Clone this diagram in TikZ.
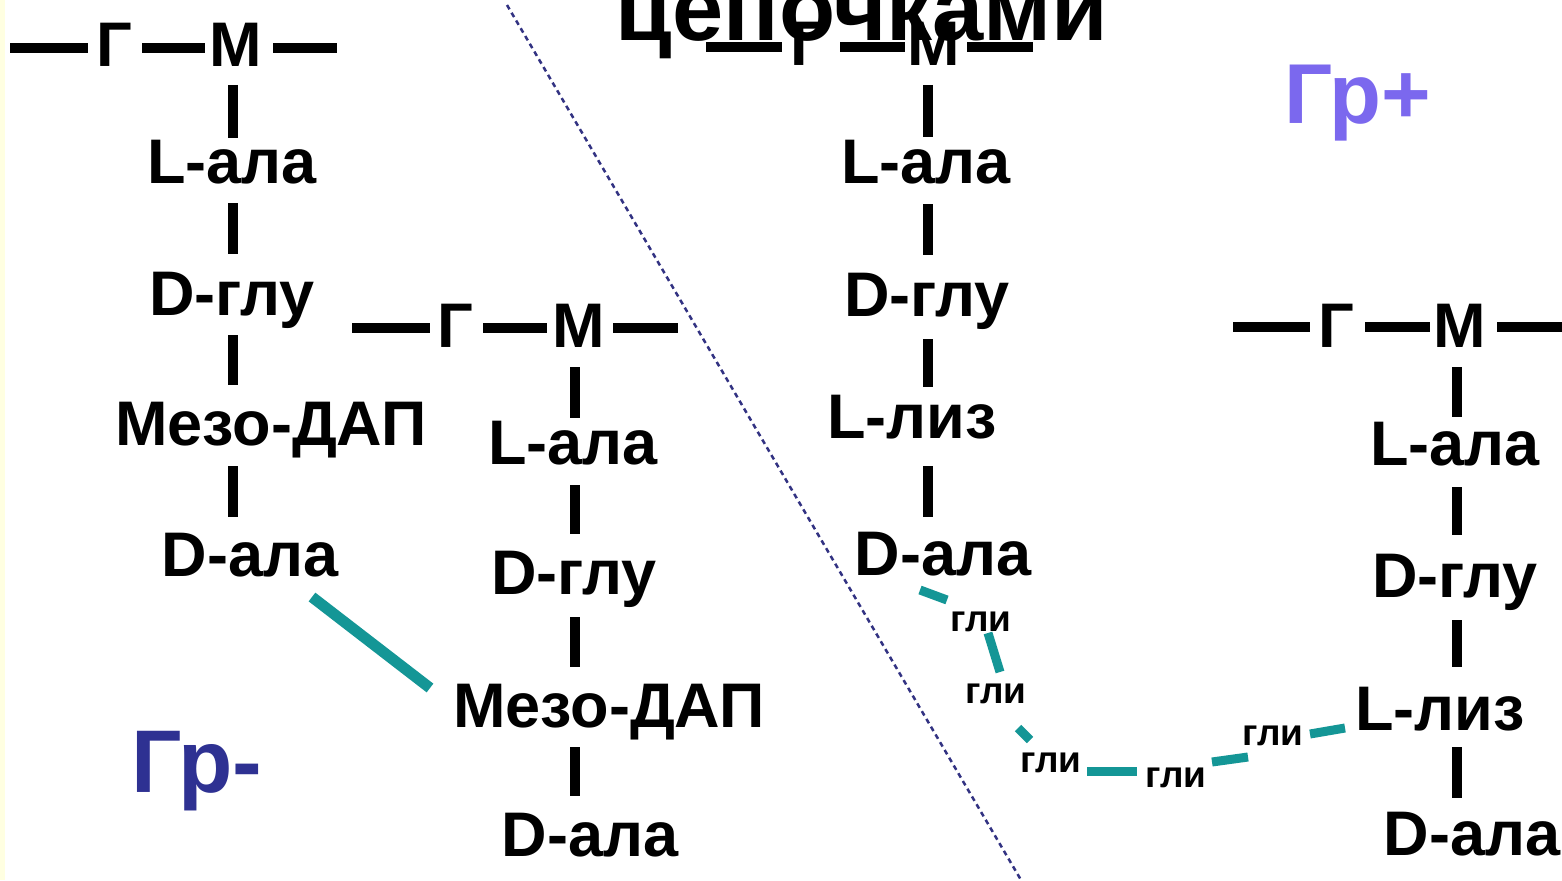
\documentclass[tikz,border=0pt]{standalone}
\usepackage{fontspec}
\setmainfont{Liberation Sans}
\usetikzlibrary{calc}
\definecolor{tealc}{RGB}{20,150,150}
\definecolor{grminus}{RGB}{46,49,146}
\definecolor{grplus}{RGB}{123,104,238}
\definecolor{dotc}{RGB}{50,50,130}
\definecolor{stripc}{RGB}{255,255,225}
\tikzset{
  lbl/.style={font=\fontsize{63}{63}\selectfont\bfseries, inner sep=0pt, text height=45pt, text depth=0pt, anchor=base},
  gl/.style={font=\fontsize{37}{37}\selectfont\bfseries, inner sep=0pt, text height=20pt, text depth=0pt, anchor=base},
  titl/.style={font=\fontsize{92}{92}\selectfont\bfseries, inner sep=0pt, anchor=base},
  grp/.style={font=\fontsize{89}{89}\selectfont\bfseries, inner sep=0pt, anchor=base west},
  hb/.style={line width=10pt, black},
  vb/.style={line width=10pt, black},
  gly/.style={line width=9pt, tealc},
  xlink/.style={line width=11pt, tealc},
  dotline/.style={line width=2.5pt, dotc, dash pattern=on 5pt off 4pt}
}
\begin{document}
\begin{tikzpicture}[x=1pt,y=-1pt]
\useasboundingbox (0,0) rectangle (1562,880);
\fill[white] (0,0) rectangle (1562,880);
\fill[stripc] (0,0) rectangle (5,880);

% dotted divider
\coordinate (d1) at (507,5);
\coordinate (d2) at (1021,880);
\draw[dotline] (d1) -- (d2);

% ---------- chain 1 ----------
\node[lbl] (G1) at (114,67) {Г};
\node[lbl] (M1) at (236,67) {М};
\node[lbl] (La1) at (232,183) {L-ала};
\node[lbl] (Dg1) at (232,315) {D-глу};
\node[lbl] (Mz1) at (271,445) {Мезо-ДАП};
\node[lbl] (Da1) at (250,576) {D-ала};
\coordinate (c1l) at (10,48);
\coordinate (c1r) at (337,48);
\draw[hb] (c1l) -- ($(G1.base)+(-26,-19)$);
\draw[hb] ($(G1.base)+(28,-19)$) -- ($(M1.base)+(-31,-19)$);
\draw[hb] ($(M1.base)+(37,-19)$) -- (c1r);
\draw[vb] ($(M1.base)+(-3,18)$) -- ($(M1.base |- La1.north)+(-3,0)$);
\draw[vb] ($(M1.base |- La1.base)+(-3,20)$) -- ($(M1.base |- Dg1.north)+(-3,-16)$);
\draw[vb] ($(M1.base |- Dg1.base)+(-3,20)$) -- ($(M1.base |- Mz1.north)+(-3,-15)$);
\draw[vb] ($(M1.base |- Mz1.base)+(-3,21)$) -- ($(M1.base |- Da1.north)+(-3,-14)$);

% ---------- chain 2 ----------
\node[lbl] (G2) at (455,347) {Г};
\node[lbl] (M2) at (579,347) {М};
\node[lbl] (La2) at (573,464) {L-ала};
\node[lbl] (Dg2) at (574,594) {D-глу};
\node[lbl] (Mz2) at (609,727) {Мезо-ДАП};
\node[lbl] (Da2) at (590,856) {D-ала};
\coordinate (c2l) at (352,328);
\coordinate (c2r) at (678,328);
\draw[hb] (c2l) -- ($(G2.base)+(-25,-19)$);
\draw[hb] ($(G2.base)+(28,-19)$) -- ($(M2.base)+(-32,-19)$);
\draw[hb] ($(M2.base)+(34,-19)$) -- (c2r);
\draw[vb] ($(M2.base)+(-4,20)$) -- ($(M2.base |- La2.north)+(-4,-1)$);
\draw[vb] ($(M2.base |- La2.base)+(-4,21)$) -- ($(M2.base |- Dg2.north)+(-4,-15)$);
\draw[vb] ($(M2.base |- Dg2.base)+(-4,23)$) -- ($(M2.base |- Mz2.north)+(-4,-15)$);
\draw[vb] ($(M2.base |- Mz2.base)+(-4,20)$) -- ($(M2.base |- Da2.north)+(-4,-15)$);

% cross-link chain 1 -> chain 2
\draw[xlink] ($(Da1.base)+(62,21)$) -- ($(Mz2.base)+(-179,-39)$);

% ---------- chain 3 ----------
\node[lbl] (G3) at (808,66) {Г};
\node[lbl] (M3) at (934,66) {М};
\node[lbl] (La3) at (926,183) {L-ала};
\node[lbl] (Dg3) at (927,316) {D-глу};
\node[lbl] (Lz3) at (912,438) {L-лиз};
\node[lbl] (Da3) at (943,575) {D-ала};
\coordinate (c3l) at (706,47);
\coordinate (c3r) at (1033,47);
\draw[hb] (c3l) -- ($(G3.base)+(-26,-19)$);
\draw[hb] ($(G3.base)+(32,-19)$) -- ($(M3.base)+(-29,-19)$);
\draw[hb] ($(M3.base)+(33,-19)$) -- (c3r);
\draw[vb] ($(M3.base)+(-6,19)$) -- ($(M3.base |- La3.north)+(-6,-1)$);
\draw[vb] ($(M3.base |- La3.base)+(-6,21)$) -- ($(M3.base |- Dg3.north)+(-6,-16)$);
\draw[vb] ($(M3.base |- Dg3.base)+(-6,23)$) -- ($(M3.base |- Lz3.north)+(-6,-6)$);
\draw[vb] ($(M3.base |- Lz3.base)+(-6,28)$) -- ($(M3.base |- Da3.north)+(-6,-13)$);

% title fragment
\node[titl] (T) at (862,41) {цепочками};

% ---------- chain 4 ----------
\node[lbl] (G4) at (1336,347) {Г};
\node[lbl] (M4) at (1460,347) {М};
\node[lbl] (La4) at (1455,465) {L-ала};
\node[lbl] (Dg4) at (1455,597) {D-глу};
\node[lbl] (Lz4) at (1440,730) {L-лиз};
\node[lbl] (Da4) at (1472,855) {D-ала};
\coordinate (c4l) at (1233,327);
\coordinate (c4r) at (1562,327);
\draw[hb] (c4l) -- ($(G4.base)+(-26,-20)$);
\draw[hb] ($(G4.base)+(29,-20)$) -- ($(M4.base)+(-30,-20)$);
\draw[hb] ($(M4.base)+(37,-20)$) -- (c4r);
\draw[vb] ($(M4.base)+(-3,20)$) -- ($(M4.base |- La4.north)+(-3,-3)$);
\draw[vb] ($(M4.base |- La4.base)+(-3,22)$) -- ($(M4.base |- Dg4.north)+(-3,-17)$);
\draw[vb] ($(M4.base |- Dg4.base)+(-3,23)$) -- ($(M4.base |- Lz4.north)+(-3,-18)$);
\draw[vb] ($(M4.base |- Lz4.base)+(-3,17)$) -- ($(M4.base |- Da4.north)+(-3,-12)$);

% ---------- glycine bridge ----------
\node[gl] (g1) at (981,631) {гли};
\node[gl] (g2) at (996,703) {гли};
\node[gl] (g3) at (1051,772) {гли};
\node[gl] (g4) at (1176,787) {гли};
\node[gl] (g5) at (1273,745) {гли};
\draw[gly] ($(Da3.base)+(-23,15)$) -- ($(g1.base)+(-34,-31)$);
\draw[gly] ($(g1.base)+(7,2)$) -- ($(g2.base)+(4,-31)$);
\draw[gly] ($(g2.base)+(22,25)$) -- ($(g3.base)+(-21,-32)$);
\draw[gly] ($(g3.base)+(36,-1)$) -- ($(g4.base)+(-39,-16)$);
\draw[gly] ($(g4.base)+(36,-25)$) -- ($(g5.base)+(-25,12)$);
\draw[gly] ($(g5.base)+(37,-11)$) -- ($(Lz4.base)+(-95,-2)$);

% ---------- group labels ----------
\node[grp, text=grminus] (grm) at (131,792) {Гр-};
\node[grp, text=grplus, font=\fontsize{85}{85}\selectfont\bfseries] (grpl) at (1284,124) {Гр+};
\end{tikzpicture}
\end{document}
